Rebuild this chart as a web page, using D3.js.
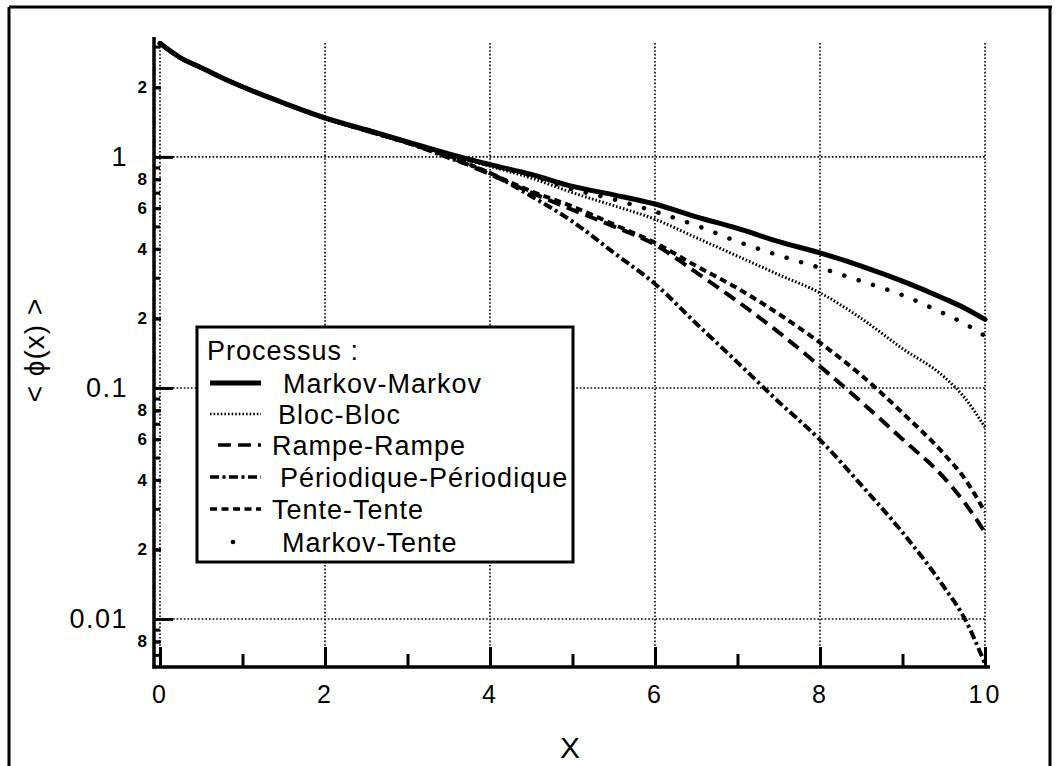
<!DOCTYPE html>
<html>
<head>
<meta charset="utf-8">
<script src="https://cdn.jsdelivr.net/npm/d3@7"></script>
<style>
  html, body { margin: 0; padding: 0; background: #fff; }
  svg { display: block; font-family: "Liberation Sans", Arial, Helvetica, sans-serif; }
</style>
</head>
<body>
<svg id="chart" width="1056" height="766"></svg>
<script>
// Abscissa samples shared by every process curve
const xValues = [0, 0.25, 0.5, 0.75, 1, 1.5, 2, 2.5, 3, 3.5, 4, 4.5, 5, 5.5, 6, 6.5, 7, 7.5, 8, 8.5, 9, 9.5, 9.75, 10];

// <phi(x)> for each pair of processes
const markovMarkov = [3.1, 2.68, 2.43, 2.2, 2.01, 1.71, 1.475, 1.31, 1.16, 1.03, 0.925, 0.84, 0.745, 0.685, 0.625, 0.55, 0.49, 0.43, 0.384, 0.337, 0.29, 0.244, 0.222, 0.198];
const blocBloc = [3.1, 2.68, 2.43, 2.2, 2.01, 1.71, 1.47, 1.3, 1.15, 1.02, 0.91, 0.81, 0.7, 0.615, 0.537, 0.447, 0.372, 0.309, 0.258, 0.2, 0.148, 0.112, 0.091, 0.0676];
const rampeRampe = [3.1, 2.68, 2.43, 2.2, 2.01, 1.71, 1.47, 1.3, 1.15, 1.0, 0.84, 0.7, 0.59, 0.5, 0.417, 0.316, 0.237, 0.174, 0.124, 0.087, 0.06, 0.041, 0.032, 0.0237];
const periodiquePeriodique = [3.1, 2.68, 2.43, 2.2, 2.01, 1.71, 1.47, 1.3, 1.15, 0.99, 0.85, 0.676, 0.525, 0.385, 0.282, 0.19, 0.129, 0.087, 0.0596, 0.038, 0.0237, 0.0138, 0.0101, 0.0064];
const tenteTente = [3.1, 2.68, 2.43, 2.2, 2.01, 1.71, 1.47, 1.3, 1.15, 1.01, 0.85, 0.71, 0.61, 0.51, 0.425, 0.337, 0.27, 0.209, 0.157, 0.1135, 0.078, 0.0519, 0.0407, 0.029];
const markovTente = [3.1, 2.68, 2.43, 2.2, 2.01, 1.71, 1.47, 1.3, 1.15, 1.02, 0.92, 0.83, 0.725, 0.655, 0.58, 0.505, 0.43, 0.375, 0.331, 0.29, 0.252, 0.21, 0.19, 0.168];

const seriesNames = ["Markov-Markov", "Bloc-Bloc", "Rampe-Rampe", "Périodique-Périodique", "Tente-Tente", "Markov-Tente"];

// Tick values
const xMajorTicks = [0, 2, 4, 6, 8, 10];
const yMajorTicks = [0.01, 0.1, 1];
const yMajorLabels = ["0.01", "0.1", "1"];
const yMinorLabelled = [0.008, 0.02, 0.04, 0.06, 0.08, 0.2, 0.4, 0.6, 0.8, 2];
const yMinorLabels = ["8", "2", "4", "6", "8", "2", "4", "6", "8", "2"];

const svg = d3.select("#chart");
const W = 1056, H = 766;

const x = d3.scaleLinear().domain([0, 10]).range([160, 985]);
const y = d3.scaleLog().domain([0.0062, 3.11]).range([667, 43]);

// Outer frame
const frame = svg.append("g").attr("fill", "none").attr("stroke", "#000").attr("stroke-width", 3);
frame.append("line").attr("x1", 9).attr("y1", 7).attr("x2", 1052).attr("y2", 7);
frame.append("line").attr("x1", 9).attr("y1", 7).attr("x2", 9).attr("y2", H);
frame.append("line").attr("x1", 1050).attr("y1", 7).attr("x2", 1050).attr("y2", H);

// Dotted grid
const grid = svg.append("g").attr("stroke", "#000").attr("stroke-width", 1.6).attr("stroke-dasharray", "1.6,2");
grid.selectAll("line.v").data(xMajorTicks).join("line")
  .attr("x1", d => x(d)).attr("x2", d => x(d))
  .attr("y1", y.range()[1]).attr("y2", y.range()[0]);
grid.selectAll("line.h").data(yMajorTicks).join("line")
  .attr("x1", 155).attr("x2", x(10))
  .attr("y1", d => y(d)).attr("y2", d => y(d));

// Axes (ticks drawn inward)
const axisX = 154, axisY = 667;
const xAxisG = svg.append("g").attr("transform", `translate(0,${axisY})`);
const xMinor = d3.range(0, 10.001, 0.2).map(v => +v.toFixed(1)).filter(v => Math.abs(v - Math.round(v)) > 1e-6);
const xOdd = [1, 3, 5, 7, 9];
xAxisG.call(d3.axisBottom(x).tickValues(xMinor).tickSizeInner(-8).tickSizeOuter(0).tickFormat(""));
xAxisG.call(d3.axisBottom(x).tickValues(xOdd).tickSizeInner(-13).tickSizeOuter(0).tickFormat(""));
const xAxisMajor = svg.append("g").attr("transform", `translate(0,${axisY})`)
  .call(d3.axisBottom(x).tickValues(xMajorTicks).tickSizeInner(-20).tickSizeOuter(0).tickPadding(18).tickFormat(d3.format("d")));
svg.selectAll(".domain").remove();
svg.selectAll(".tick line").attr("stroke", "#000").attr("stroke-width", 3);
xAxisMajor.selectAll("text").attr("font-size", 25).attr("letter-spacing", 3).attr("fill", "#000");

const yAxisG = svg.append("g").attr("transform", `translate(${axisX},0)`);
const yMinorAll = [];
[0.001, 0.01, 0.1, 1].forEach(dec => { for (let k = 2; k <= 9; k++) { const v = +(k * dec).toPrecision(3); if (v >= 0.0062 && v <= 3.11) yMinorAll.push(v); } });
yAxisG.append("g").call(d3.axisLeft(y).tickValues(yMinorAll).tickSizeInner(-6).tickSizeOuter(0).tickFormat(""));
yAxisG.append("g").call(d3.axisLeft(y).tickValues(yMinorLabelled).tickSizeInner(-7).tickSizeOuter(0).tickPadding(7)
  .tickFormat((d, i) => yMinorLabels[i]))
  .selectAll("text").attr("font-size", 17).attr("font-weight", "bold").attr("fill", "#000");
yAxisG.append("g").call(d3.axisLeft(y).tickValues(yMajorTicks).tickSizeInner(-19).tickSizeOuter(0).tickPadding(26)
  .tickFormat((d, i) => yMajorLabels[i]))
  .selectAll("text").attr("font-size", 27).attr("letter-spacing", 1.5).attr("fill", "#000");
yAxisG.selectAll(".domain").remove();
yAxisG.selectAll(".tick line").attr("stroke", "#000").attr("stroke-width", 3);

// Axis spines
svg.append("line").attr("x1", axisX).attr("x2", axisX).attr("y1", 37).attr("y2", axisY + 1.5)
  .attr("stroke", "#000").attr("stroke-width", 3.5);
svg.append("line").attr("x1", axisX - 1.5).attr("x2", 990).attr("y1", axisY).attr("y2", axisY)
  .attr("stroke", "#000").attr("stroke-width", 3.5);

// Axis titles
svg.append("text").attr("x", 570).attr("y", 758).attr("text-anchor", "middle")
  .attr("font-size", 30).text("X");
svg.append("text").attr("transform", "translate(44,350) rotate(-90)").attr("text-anchor", "middle")
  .attr("font-size", 28).attr("letter-spacing", 1).text("< ϕ(x) >");

// Curves
const styles = [
  { width: 5, dash: null, cap: "round" },
  { width: 3, dash: "1.6,2", cap: "butt" },
  { width: 4, dash: "13,7", cap: "butt" },
  { width: 4, dash: "9,3.5,3,3.5", cap: "butt" },
  { width: 4, dash: "7,4.5", cap: "butt" },
  { width: 4.5, dash: "0.1,15", cap: "round" }
];
const seriesValues = [markovMarkov, blocBloc, rampeRampe, periodiquePeriodique, tenteTente, markovTente];
const line = d3.line().x(d => x(d[0])).y(d => y(d[1])).curve(d3.curveMonotoneX);

const plot = svg.append("g");
seriesValues.forEach((vals, i) => {
  const pts = xValues.map((xv, j) => [xv, vals[j]]);
  plot.append("path").datum(pts)
    .attr("d", line)
    .attr("fill", "none").attr("stroke", "#000")
    .attr("stroke-width", styles[i].width)
    .attr("stroke-dasharray", styles[i].dash)
    .attr("stroke-linecap", styles[i].cap)
    .attr("stroke-linejoin", "round");
});

// Legend
const lg = svg.append("g");
lg.append("rect").attr("x", 197).attr("y", 327).attr("width", 376).attr("height", 235)
  .attr("fill", "#fff").attr("stroke", "#000").attr("stroke-width", 3);
lg.append("text").attr("x", 207).attr("y", 360).attr("font-size", 27).attr("letter-spacing", 1).text("Processus :");
const rowY = [383, 414, 445, 477, 509, 542];
const textX = [283, 278, 272, 280, 272, 282];
const sampleX0 = [210, 210, 218, 210, 210, 210];
seriesNames.forEach((name, i) => {
  if (i === 5) {
    lg.append("circle").attr("cx", 233).attr("cy", rowY[i]).attr("r", 2.3).attr("fill", "#000");
  } else {
    lg.append("line").attr("x1", sampleX0[i]).attr("x2", 261).attr("y1", rowY[i]).attr("y2", rowY[i])
      .attr("stroke", "#000")
      .attr("stroke-width", i === 0 ? 5 : (i === 1 ? 2.6 : 3.5))
      .attr("stroke-dasharray", styles[i].dash);
  }
  lg.append("text").attr("x", textX[i]).attr("y", rowY[i] + 9.5)
    .attr("font-size", 27).attr("letter-spacing", 1).text(name);
});
</script>
</body>
</html>
